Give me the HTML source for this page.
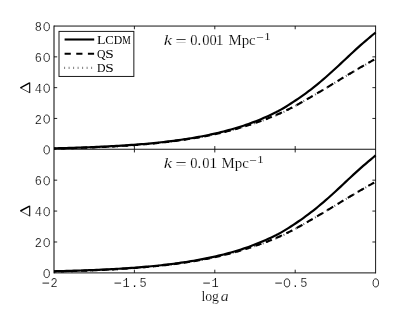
<!DOCTYPE html>
<html><head><meta charset="utf-8"><title>plot</title>
<style>
html,body{margin:0;padding:0;background:#fff;}
svg{display:block;will-change:transform;}
.m{font-family:"Liberation Mono",monospace;font-size:13px;fill:#000;stroke:#fff;stroke-width:0.2px;}
.lg{font-family:"Liberation Serif",serif;font-size:12.5px;fill:#000;}
.s{font-family:"Liberation Serif",serif;font-size:14.5px;fill:#000;stroke:#fff;stroke-width:0.18px;}
.i{font-style:italic;}
</style></head><body>
<svg width="415" height="312" viewBox="0 0 415 312">
<rect x="0" y="0" width="415" height="312" fill="#fff"/>
<g fill="none" stroke="#000" stroke-width="1.0">
<path d="M54.0,26.05 H375.6 M54.0,149.25 H375.6 M54.0,272.9 H375.6" stroke-opacity="0.93"/>
<path d="M54.0,25.55 V273.4" stroke-opacity="1" stroke-width="1"/>
<path d="M375.6,25.55 V273.4" stroke-opacity="0.9" stroke-width="1"/>
</g>
<path d="M134.40,149.25 v-3.2 M134.40,26.05 v3.2 M134.40,272.9 v-3.2 M134.40,149.25 v3.2 M214.80,149.25 v-3.2 M214.80,26.05 v3.2 M214.80,272.9 v-3.2 M214.80,149.25 v3.2 M295.20,149.25 v-3.2 M295.20,26.05 v3.2 M295.20,272.9 v-3.2 M295.20,149.25 v3.2 M54.0,118.45 h3.2 M375.6,118.45 h-3.2 M54.0,87.65 h3.2 M375.6,87.65 h-3.2 M54.0,56.85 h3.2 M375.6,56.85 h-3.2 M54.0,241.99 h3.2 M375.6,241.99 h-3.2 M54.0,211.07 h3.2 M375.6,211.07 h-3.2 M54.0,180.16 h3.2 M375.6,180.16 h-3.2" fill="none" stroke="#000" stroke-width="1" stroke-opacity="0.85"/>
<path d="M54.00,148.60 L56.49,148.55 L58.99,148.49 L61.48,148.42 L63.97,148.36 L66.47,148.29 L68.96,148.22 L71.45,148.15 L73.94,148.08 L76.44,148.00 L78.93,147.92 L81.42,147.83 L83.92,147.75 L86.41,147.66 L88.90,147.56 L91.40,147.46 L93.89,147.36 L96.38,147.26 L98.87,147.15 L101.37,147.03 L103.86,146.91 L106.35,146.79 L108.85,146.67 L111.34,146.53 L113.83,146.40 L116.33,146.26 L118.82,146.11 L121.31,145.96 L123.80,145.80 L126.30,145.64 L128.79,145.47 L131.28,145.29 L133.78,145.11 L136.27,144.92 L138.76,144.73 L141.26,144.53 L143.75,144.32 L146.24,144.10 L148.73,143.88 L151.23,143.65 L153.72,143.41 L156.21,143.16 L158.71,142.91 L161.20,142.64 L163.69,142.37 L166.19,142.09 L168.68,141.80 L171.17,141.49 L173.67,141.18 L176.16,140.86 L178.65,140.52 L181.14,140.18 L183.64,139.82 L186.13,139.45 L188.62,139.07 L191.12,138.67 L193.61,138.27 L196.10,137.85 L198.60,137.41 L201.09,136.96 L203.58,136.50 L206.07,136.02 L208.57,135.53 L211.06,135.02 L213.55,134.49 L216.05,133.95 L218.54,133.39 L221.03,132.81 L223.53,132.21 L226.02,131.60 L228.51,130.97 L231.00,130.33 L233.50,129.66 L235.99,128.98 L238.48,128.27 L240.98,127.55 L243.47,126.81 L245.96,126.05 L248.46,125.28 L250.95,124.49 L253.44,123.68 L255.93,122.84 L258.43,122.00 L260.92,121.14 L263.41,120.27 L265.91,119.37 L268.40,118.45 L270.89,117.51 L273.39,116.54 L275.88,115.53 L278.37,114.47 L280.87,113.35 L283.36,112.17 L285.85,110.95 L288.34,109.68 L290.84,108.38 L293.33,107.06 L295.82,105.69 L298.32,104.30 L300.81,102.90 L303.30,101.49 L305.80,100.06 L308.29,98.63 L310.78,97.19 L313.27,95.74 L315.77,94.28 L318.26,92.80 L320.75,91.32 L323.25,89.83 L325.74,88.32 L328.23,86.82 L330.73,85.31 L333.22,83.80 L335.71,82.29 L338.20,80.78 L340.70,79.28 L343.19,77.78 L345.68,76.28 L348.18,74.79 L350.67,73.30 L353.16,71.82 L355.66,70.35 L358.15,68.89 L360.64,67.44 L363.13,65.99 L365.63,64.56 L368.12,63.12 L370.61,61.62 L373.11,60.11 L375.60,58.61" fill="none" stroke="#000" stroke-opacity="0.6" stroke-width="2" stroke-dasharray="1 3.5"/>
<path d="M368.30,62.93 L369.48,62.26 L370.66,61.60 L371.84,60.94 L373.02,60.29 L374.20,59.63 M358.05,68.83 L359.23,68.14 L360.41,67.45 L361.59,66.77 L362.77,66.09 L363.95,65.41 M347.80,74.89 L348.98,74.19 L350.16,73.49 L351.34,72.78 L352.52,72.08 L353.70,71.39 M337.55,81.05 L338.73,80.34 L339.91,79.63 L341.09,78.92 L342.27,78.21 L343.45,77.50 M327.30,87.25 L328.48,86.54 L329.66,85.83 L330.84,85.11 L332.02,84.40 L333.20,83.68 M317.05,93.39 L318.23,92.69 L319.41,91.99 L320.59,91.29 L321.77,90.58 L322.95,89.87 M306.80,99.35 L307.98,98.67 L309.16,97.99 L310.34,97.31 L311.52,96.63 L312.70,95.94 M296.55,105.13 L297.73,104.48 L298.91,103.83 L300.09,103.17 L301.27,102.51 L302.45,101.84 M286.30,110.37 L287.48,109.80 L288.66,109.22 L289.84,108.64 L291.02,108.04 L292.20,107.44 M276.05,115.01 L277.23,114.50 L278.41,113.99 L279.59,113.47 L280.77,112.94 L281.95,112.40 M265.80,119.16 L266.98,118.71 L268.16,118.25 L269.34,117.78 L270.52,117.31 L271.70,116.83 M255.55,122.82 L256.73,122.41 L257.91,122.01 L259.09,121.60 L260.27,121.18 L261.45,120.76 M245.30,126.17 L246.48,125.80 L247.66,125.43 L248.84,125.05 L250.02,124.67 L251.20,124.29 M235.05,129.20 L236.23,128.87 L237.41,128.53 L238.59,128.19 L239.77,127.85 L240.95,127.49 M224.80,131.90 L225.98,131.61 L227.16,131.31 L228.34,131.01 L229.52,130.70 L230.70,130.39 M214.55,134.28 L215.73,134.02 L216.91,133.76 L218.09,133.49 L219.27,133.22 L220.45,132.95 M204.30,136.36 L205.48,136.14 L206.66,135.91 L207.84,135.67 L209.02,135.44 L210.20,135.20 M194.05,138.19 L195.23,138.00 L196.41,137.79 L197.59,137.59 L198.77,137.38 L199.95,137.17 M183.80,139.80 L184.98,139.62 L186.16,139.45 L187.34,139.27 L188.52,139.08 L189.70,138.90 M173.55,141.19 L174.73,141.04 L175.91,140.89 L177.09,140.73 L178.27,140.57 L179.45,140.41 M163.30,142.41 L164.48,142.28 L165.66,142.15 L166.84,142.01 L168.02,141.87 L169.20,141.73 M153.05,143.48 L154.23,143.36 L155.41,143.25 L156.59,143.13 L157.77,143.01 L158.95,142.88 M142.80,144.40 L143.98,144.30 L145.16,144.20 L146.34,144.10 L147.52,143.99 L148.70,143.88 M132.55,145.20 L133.73,145.12 L134.91,145.03 L136.09,144.94 L137.27,144.85 L138.45,144.75 M122.30,145.90 L123.48,145.82 L124.66,145.74 L125.84,145.67 L127.02,145.59 L128.20,145.51 M112.05,146.50 L113.23,146.43 L114.41,146.37 L115.59,146.30 L116.77,146.23 L117.95,146.16 M101.80,147.01 L102.98,146.96 L104.16,146.90 L105.34,146.84 L106.52,146.78 L107.70,146.72 M91.55,147.46 L92.73,147.41 L93.91,147.36 L95.09,147.31 L96.27,147.26 L97.45,147.21 M81.30,147.84 L82.48,147.80 L83.66,147.76 L84.84,147.71 L86.02,147.67 L87.20,147.63 M71.05,148.16 L72.23,148.13 L73.41,148.09 L74.59,148.06 L75.77,148.02 L76.95,147.98 M60.80,148.44 L61.98,148.41 L63.16,148.38 L64.34,148.35 L65.52,148.32 L66.70,148.29 M54.00,148.60 L54.49,148.59 L54.98,148.58 L55.47,148.57 L55.96,148.56 L56.45,148.55" fill="none" stroke="#000" stroke-width="2.1"/>
<path d="M54.00,148.30 L56.49,148.24 L58.99,148.19 L61.48,148.12 L63.97,148.06 L66.47,147.99 L68.96,147.92 L71.45,147.85 L73.94,147.77 L76.44,147.70 L78.93,147.61 L81.42,147.53 L83.92,147.44 L86.41,147.35 L88.90,147.26 L91.40,147.16 L93.89,147.05 L96.38,146.95 L98.87,146.84 L101.37,146.72 L103.86,146.60 L106.35,146.48 L108.85,146.35 L111.34,146.22 L113.83,146.08 L116.33,145.94 L118.82,145.79 L121.31,145.64 L123.80,145.48 L126.30,145.31 L128.79,145.14 L131.28,144.96 L133.78,144.78 L136.27,144.59 L138.76,144.39 L141.26,144.19 L143.75,143.98 L146.24,143.76 L148.73,143.54 L151.23,143.30 L153.72,143.06 L156.21,142.81 L158.71,142.55 L161.20,142.28 L163.69,142.00 L166.19,141.71 L168.68,141.41 L171.17,141.11 L173.67,140.79 L176.16,140.46 L178.65,140.11 L181.14,139.76 L183.64,139.40 L186.13,139.02 L188.62,138.63 L191.12,138.22 L193.61,137.80 L196.10,137.37 L198.60,136.92 L201.09,136.46 L203.58,135.98 L206.07,135.48 L208.57,134.97 L211.06,134.44 L213.55,133.89 L216.05,133.32 L218.54,132.73 L221.03,132.13 L223.53,131.50 L226.02,130.85 L228.51,130.18 L231.00,129.50 L233.50,128.78 L235.99,128.05 L238.48,127.29 L240.98,126.50 L243.47,125.69 L245.96,124.85 L248.46,123.98 L250.95,123.08 L253.44,122.14 L255.93,121.18 L258.43,120.18 L260.92,119.15 L263.41,118.09 L265.91,117.00 L268.40,115.89 L270.89,114.74 L273.39,113.56 L275.88,112.33 L278.37,111.03 L280.87,109.65 L283.36,108.21 L285.85,106.70 L288.34,105.15 L290.84,103.55 L293.33,101.93 L295.82,100.27 L298.32,98.57 L300.81,96.85 L303.30,95.09 L305.80,93.28 L308.29,91.43 L310.78,89.53 L313.27,87.59 L315.77,85.60 L318.26,83.57 L320.75,81.49 L323.25,79.37 L325.74,77.22 L328.23,75.02 L330.73,72.80 L333.22,70.54 L335.71,68.26 L338.20,65.95 L340.70,63.63 L343.19,61.30 L345.68,58.96 L348.18,56.62 L350.67,54.29 L353.16,51.97 L355.66,49.68 L358.15,47.41 L360.64,45.18 L363.13,42.99 L365.63,40.85 L368.12,38.74 L370.61,36.62 L373.11,34.53 L375.60,32.53" fill="none" stroke="#000" stroke-width="2.2" stroke-linejoin="round"/>
<path d="M54.00,271.55 L56.49,271.50 L58.99,271.44 L61.48,271.37 L63.97,271.31 L66.47,271.24 L68.96,271.17 L71.45,271.10 L73.94,271.03 L76.44,270.95 L78.93,270.87 L81.42,270.78 L83.92,270.70 L86.41,270.61 L88.90,270.51 L91.40,270.41 L93.89,270.31 L96.38,270.21 L98.87,270.10 L101.37,269.98 L103.86,269.86 L106.35,269.74 L108.85,269.62 L111.34,269.48 L113.83,269.35 L116.33,269.21 L118.82,269.06 L121.31,268.91 L123.80,268.75 L126.30,268.59 L128.79,268.42 L131.28,268.24 L133.78,268.06 L136.27,267.87 L138.76,267.68 L141.26,267.48 L143.75,267.27 L146.24,267.05 L148.73,266.83 L151.23,266.60 L153.72,266.36 L156.21,266.11 L158.71,265.86 L161.20,265.59 L163.69,265.32 L166.19,265.04 L168.68,264.75 L171.17,264.44 L173.67,264.13 L176.16,263.81 L178.65,263.47 L181.14,263.13 L183.64,262.77 L186.13,262.40 L188.62,262.02 L191.12,261.62 L193.61,261.22 L196.10,260.80 L198.60,260.36 L201.09,259.91 L203.58,259.45 L206.07,258.97 L208.57,258.48 L211.06,257.97 L213.55,257.44 L216.05,256.90 L218.54,256.34 L221.03,255.76 L223.53,255.16 L226.02,254.55 L228.51,253.92 L231.00,253.28 L233.50,252.61 L235.99,251.93 L238.48,251.22 L240.98,250.50 L243.47,249.76 L245.96,249.00 L248.46,248.23 L250.95,247.44 L253.44,246.63 L255.93,245.79 L258.43,244.95 L260.92,244.09 L263.41,243.22 L265.91,242.32 L268.40,241.40 L270.89,240.46 L273.39,239.49 L275.88,238.48 L278.37,237.42 L280.87,236.30 L283.36,235.12 L285.85,233.90 L288.34,232.63 L290.84,231.33 L293.33,230.01 L295.82,228.64 L298.32,227.25 L300.81,225.85 L303.30,224.44 L305.80,223.01 L308.29,221.58 L310.78,220.14 L313.27,218.69 L315.77,217.23 L318.26,215.75 L320.75,214.27 L323.25,212.78 L325.74,211.27 L328.23,209.77 L330.73,208.26 L333.22,206.75 L335.71,205.24 L338.20,203.73 L340.70,202.23 L343.19,200.73 L345.68,199.23 L348.18,197.74 L350.67,196.25 L353.16,194.77 L355.66,193.30 L358.15,191.84 L360.64,190.39 L363.13,188.94 L365.63,187.51 L368.12,186.07 L370.61,184.57 L373.11,183.06 L375.60,181.56" fill="none" stroke="#000" stroke-opacity="0.6" stroke-width="2" stroke-dasharray="1 3.5"/>
<path d="M368.30,185.88 L369.48,185.21 L370.66,184.55 L371.84,183.89 L373.02,183.24 L374.20,182.58 M358.05,191.78 L359.23,191.09 L360.41,190.40 L361.59,189.72 L362.77,189.04 L363.95,188.36 M347.80,197.84 L348.98,197.14 L350.16,196.44 L351.34,195.73 L352.52,195.03 L353.70,194.34 M337.55,204.00 L338.73,203.29 L339.91,202.58 L341.09,201.87 L342.27,201.16 L343.45,200.45 M327.30,210.20 L328.48,209.49 L329.66,208.78 L330.84,208.06 L332.02,207.35 L333.20,206.63 M317.05,216.34 L318.23,215.64 L319.41,214.94 L320.59,214.24 L321.77,213.53 L322.95,212.82 M306.80,222.30 L307.98,221.62 L309.16,220.94 L310.34,220.26 L311.52,219.58 L312.70,218.89 M296.55,228.08 L297.73,227.43 L298.91,226.78 L300.09,226.12 L301.27,225.46 L302.45,224.79 M286.30,233.32 L287.48,232.75 L288.66,232.17 L289.84,231.59 L291.02,230.99 L292.20,230.39 M276.05,237.96 L277.23,237.45 L278.41,236.94 L279.59,236.42 L280.77,235.89 L281.95,235.35 M265.80,242.11 L266.98,241.66 L268.16,241.20 L269.34,240.73 L270.52,240.26 L271.70,239.78 M255.55,245.77 L256.73,245.36 L257.91,244.96 L259.09,244.55 L260.27,244.13 L261.45,243.71 M245.30,249.12 L246.48,248.75 L247.66,248.38 L248.84,248.00 L250.02,247.62 L251.20,247.24 M235.05,252.15 L236.23,251.82 L237.41,251.48 L238.59,251.14 L239.77,250.80 L240.95,250.44 M224.80,254.85 L225.98,254.56 L227.16,254.26 L228.34,253.96 L229.52,253.65 L230.70,253.34 M214.55,257.23 L215.73,256.97 L216.91,256.71 L218.09,256.44 L219.27,256.17 L220.45,255.90 M204.30,259.31 L205.48,259.09 L206.66,258.86 L207.84,258.62 L209.02,258.39 L210.20,258.15 M194.05,261.14 L195.23,260.95 L196.41,260.74 L197.59,260.54 L198.77,260.33 L199.95,260.12 M183.80,262.75 L184.98,262.57 L186.16,262.40 L187.34,262.22 L188.52,262.03 L189.70,261.85 M173.55,264.14 L174.73,263.99 L175.91,263.84 L177.09,263.68 L178.27,263.52 L179.45,263.36 M163.30,265.36 L164.48,265.23 L165.66,265.10 L166.84,264.96 L168.02,264.82 L169.20,264.68 M153.05,266.43 L154.23,266.31 L155.41,266.20 L156.59,266.08 L157.77,265.96 L158.95,265.83 M142.80,267.35 L143.98,267.25 L145.16,267.15 L146.34,267.05 L147.52,266.94 L148.70,266.83 M132.55,268.15 L133.73,268.07 L134.91,267.98 L136.09,267.89 L137.27,267.80 L138.45,267.70 M122.30,268.85 L123.48,268.77 L124.66,268.69 L125.84,268.62 L127.02,268.54 L128.20,268.46 M112.05,269.45 L113.23,269.38 L114.41,269.32 L115.59,269.25 L116.77,269.18 L117.95,269.11 M101.80,269.96 L102.98,269.91 L104.16,269.85 L105.34,269.79 L106.52,269.73 L107.70,269.67 M91.55,270.41 L92.73,270.36 L93.91,270.31 L95.09,270.26 L96.27,270.21 L97.45,270.16 M81.30,270.79 L82.48,270.75 L83.66,270.71 L84.84,270.66 L86.02,270.62 L87.20,270.58 M71.05,271.11 L72.23,271.08 L73.41,271.04 L74.59,271.01 L75.77,270.97 L76.95,270.93 M60.80,271.39 L61.98,271.36 L63.16,271.33 L64.34,271.30 L65.52,271.27 L66.70,271.24 M54.00,271.55 L54.49,271.54 L54.98,271.53 L55.47,271.52 L55.96,271.51 L56.45,271.50" fill="none" stroke="#000" stroke-width="2.1"/>
<path d="M54.00,271.25 L56.49,271.19 L58.99,271.14 L61.48,271.07 L63.97,271.01 L66.47,270.94 L68.96,270.87 L71.45,270.80 L73.94,270.72 L76.44,270.65 L78.93,270.56 L81.42,270.48 L83.92,270.39 L86.41,270.30 L88.90,270.21 L91.40,270.11 L93.89,270.00 L96.38,269.90 L98.87,269.79 L101.37,269.67 L103.86,269.55 L106.35,269.43 L108.85,269.30 L111.34,269.17 L113.83,269.03 L116.33,268.89 L118.82,268.74 L121.31,268.59 L123.80,268.43 L126.30,268.26 L128.79,268.09 L131.28,267.91 L133.78,267.73 L136.27,267.54 L138.76,267.34 L141.26,267.14 L143.75,266.93 L146.24,266.71 L148.73,266.49 L151.23,266.25 L153.72,266.01 L156.21,265.76 L158.71,265.50 L161.20,265.23 L163.69,264.95 L166.19,264.66 L168.68,264.36 L171.17,264.06 L173.67,263.74 L176.16,263.41 L178.65,263.06 L181.14,262.71 L183.64,262.35 L186.13,261.97 L188.62,261.58 L191.12,261.17 L193.61,260.75 L196.10,260.32 L198.60,259.87 L201.09,259.41 L203.58,258.93 L206.07,258.43 L208.57,257.92 L211.06,257.39 L213.55,256.84 L216.05,256.27 L218.54,255.68 L221.03,255.08 L223.53,254.45 L226.02,253.80 L228.51,253.13 L231.00,252.45 L233.50,251.73 L235.99,251.00 L238.48,250.24 L240.98,249.45 L243.47,248.64 L245.96,247.80 L248.46,246.93 L250.95,246.03 L253.44,245.09 L255.93,244.13 L258.43,243.13 L260.92,242.10 L263.41,241.04 L265.91,239.95 L268.40,238.84 L270.89,237.69 L273.39,236.51 L275.88,235.28 L278.37,233.98 L280.87,232.60 L283.36,231.16 L285.85,229.65 L288.34,228.10 L290.84,226.50 L293.33,224.88 L295.82,223.22 L298.32,221.52 L300.81,219.80 L303.30,218.04 L305.80,216.23 L308.29,214.38 L310.78,212.48 L313.27,210.54 L315.77,208.55 L318.26,206.52 L320.75,204.44 L323.25,202.32 L325.74,200.17 L328.23,197.97 L330.73,195.75 L333.22,193.49 L335.71,191.21 L338.20,188.90 L340.70,186.58 L343.19,184.25 L345.68,181.91 L348.18,179.57 L350.67,177.24 L353.16,174.92 L355.66,172.63 L358.15,170.36 L360.64,168.13 L363.13,165.94 L365.63,163.80 L368.12,161.69 L370.61,159.57 L373.11,157.48 L375.60,155.48" fill="none" stroke="#000" stroke-width="2.2" stroke-linejoin="round"/>
<rect x="59.0" y="31.4" width="74.85" height="45.05" fill="#fff" stroke="#000" stroke-opacity="0.9" stroke-width="1"/>
<path d="M64.6,39.5 H94.2" stroke="#000" stroke-width="2.1"/>
<path d="M64.6,53.7 H94.2" stroke="#000" stroke-width="2.1" stroke-dasharray="6.2 5.45"/>
<path d="M64.1,67.8 H94" stroke="#000" stroke-opacity="0.5" stroke-width="2.2" stroke-dasharray="1 3.5"/>
<text class="lg" x="96.95" y="43.8" textLength="8.5" lengthAdjust="spacingAndGlyphs">L</text>
<text class="lg" x="105.35" y="43.8" textLength="8.5" lengthAdjust="spacingAndGlyphs">C</text>
<text class="lg" x="113.75" y="43.8" textLength="8.5" lengthAdjust="spacingAndGlyphs">D</text>
<text class="lg" x="122.15" y="43.8" textLength="8.5" lengthAdjust="spacingAndGlyphs">M</text>
<text class="lg" x="96.95" y="57.9" textLength="8.5" lengthAdjust="spacingAndGlyphs">Q</text>
<text class="lg" x="105.35" y="57.9" textLength="8.5" lengthAdjust="spacingAndGlyphs">S</text>
<text class="lg" x="96.95" y="72.3" textLength="8.5" lengthAdjust="spacingAndGlyphs">D</text>
<text class="lg" x="105.35" y="72.3" textLength="8.5" lengthAdjust="spacingAndGlyphs">S</text>
<ellipse cx="46.70" cy="149.85" rx="2.72" ry="4.05" fill="none" stroke="#1a1a1a" stroke-width="0.92"/>
<text class="m" transform="translate(38.30,123.55) scale(0.92,1)" text-anchor="middle">2</text>
<ellipse cx="46.70" cy="119.05" rx="2.72" ry="4.05" fill="none" stroke="#1a1a1a" stroke-width="0.92"/>
<text class="m" transform="translate(38.30,92.75) scale(0.92,1)" text-anchor="middle">4</text>
<ellipse cx="46.70" cy="88.25" rx="2.72" ry="4.05" fill="none" stroke="#1a1a1a" stroke-width="0.92"/>
<text class="m" transform="translate(38.30,61.949999999999996) scale(0.92,1)" text-anchor="middle">6</text>
<ellipse cx="46.70" cy="57.45" rx="2.72" ry="4.05" fill="none" stroke="#1a1a1a" stroke-width="0.92"/>
<text class="m" transform="translate(38.30,31.15) scale(0.92,1)" text-anchor="middle">8</text>
<ellipse cx="46.70" cy="26.65" rx="2.72" ry="4.05" fill="none" stroke="#1a1a1a" stroke-width="0.92"/>
<ellipse cx="46.70" cy="273.50" rx="2.72" ry="4.05" fill="none" stroke="#1a1a1a" stroke-width="0.92"/>
<text class="m" transform="translate(38.30,247.08749999999998) scale(0.92,1)" text-anchor="middle">2</text>
<ellipse cx="46.70" cy="242.59" rx="2.72" ry="4.05" fill="none" stroke="#1a1a1a" stroke-width="0.92"/>
<text class="m" transform="translate(38.30,216.17499999999998) scale(0.92,1)" text-anchor="middle">4</text>
<ellipse cx="46.70" cy="211.67" rx="2.72" ry="4.05" fill="none" stroke="#1a1a1a" stroke-width="0.92"/>
<text class="m" transform="translate(38.30,185.2625) scale(0.92,1)" text-anchor="middle">6</text>
<ellipse cx="46.70" cy="180.76" rx="2.72" ry="4.05" fill="none" stroke="#1a1a1a" stroke-width="0.92"/>
<path d="M42.50,283.10 h6.6" stroke="#1a1a1a" stroke-width="0.95" fill="none"/>
<text class="m" transform="translate(54.20,287.4) scale(0.92,1)" text-anchor="middle">2</text>
<path d="M114.50,283.10 h6.6" stroke="#1a1a1a" stroke-width="0.95" fill="none"/>
<text class="m" transform="translate(126.20,287.4) scale(0.92,1)" text-anchor="middle">1</text>
<text class="m" transform="translate(134.60,287.4) scale(0.92,1)" text-anchor="middle">.</text>
<text class="m" transform="translate(143.00,287.4) scale(0.92,1)" text-anchor="middle">5</text>
<path d="M203.30,283.10 h6.6" stroke="#1a1a1a" stroke-width="0.95" fill="none"/>
<text class="m" transform="translate(215.00,287.4) scale(0.92,1)" text-anchor="middle">1</text>
<path d="M275.30,283.10 h6.6" stroke="#1a1a1a" stroke-width="0.95" fill="none"/>
<ellipse cx="287.00" cy="282.90" rx="2.72" ry="4.05" fill="none" stroke="#1a1a1a" stroke-width="0.92"/>
<text class="m" transform="translate(295.40,287.4) scale(0.92,1)" text-anchor="middle">.</text>
<text class="m" transform="translate(303.80,287.4) scale(0.92,1)" text-anchor="middle">5</text>
<ellipse cx="375.80" cy="282.90" rx="2.72" ry="4.05" fill="none" stroke="#1a1a1a" stroke-width="0.92"/>
<text class="s i" x="163.7" y="44.7" textLength="8.3" lengthAdjust="spacingAndGlyphs" style="font-size:15.6px">k</text>
<text class="s" x="175.3" y="45.5" textLength="11.6" lengthAdjust="spacingAndGlyphs">=</text>
<text class="s" x="190.2" y="44.7">0.</text>
<text class="s" x="202.2" y="44.7">00</text>
<text class="s" x="215.6" y="44.7" textLength="8.2" lengthAdjust="spacingAndGlyphs">1</text>
<text class="s" x="228.4" y="44.7" textLength="27.3" lengthAdjust="spacingAndGlyphs">Mpc</text>
<text class="s" x="256.4" y="40.7" style="font-size:10.5px" textLength="7.6" lengthAdjust="spacingAndGlyphs">−</text>
<text class="s" x="264.0" y="40.2" style="font-size:10.5px" textLength="6.8" lengthAdjust="spacingAndGlyphs">1</text>
<text class="s i" x="163.7" y="167.9" textLength="8.3" lengthAdjust="spacingAndGlyphs" style="font-size:15.6px">k</text>
<text class="s" x="175.3" y="168.70000000000002" textLength="11.6" lengthAdjust="spacingAndGlyphs">=</text>
<text class="s" x="190.2" y="167.9">0.</text>
<text class="s" x="202.2" y="167.9">0</text>
<text class="s" x="209.2" y="167.9" textLength="8.0" lengthAdjust="spacingAndGlyphs">1</text>
<text class="s" x="221.5" y="167.9" textLength="27.3" lengthAdjust="spacingAndGlyphs">Mpc</text>
<text class="s" x="249.5" y="163.9" style="font-size:10.5px" textLength="7.6" lengthAdjust="spacingAndGlyphs">−</text>
<text class="s" x="257.1" y="163.4" style="font-size:10.5px" textLength="6.8" lengthAdjust="spacingAndGlyphs">1</text>
<text class="s" x="201.4" y="300.6" textLength="17.6" lengthAdjust="spacingAndGlyphs">log</text>
<text class="s i" x="220.7" y="300.6" textLength="7.9" lengthAdjust="spacingAndGlyphs">a</text>
<g fill="none" stroke="#000" stroke-linejoin="miter"><path d="M20.4,87.8 L29.6,82.89999999999999" stroke-width="1.5"/><path d="M29.7,82.5 V93.0" stroke-width="1.1"/><path d="M20.4,87.8 L29.6,92.7" stroke-width="0.7"/></g>
<g fill="none" stroke="#000" stroke-linejoin="miter"><path d="M20.4,211.0 L29.6,206.1" stroke-width="1.5"/><path d="M29.7,205.7 V216.2" stroke-width="1.1"/><path d="M20.4,211.0 L29.6,215.9" stroke-width="0.7"/></g>
</svg></body></html>
